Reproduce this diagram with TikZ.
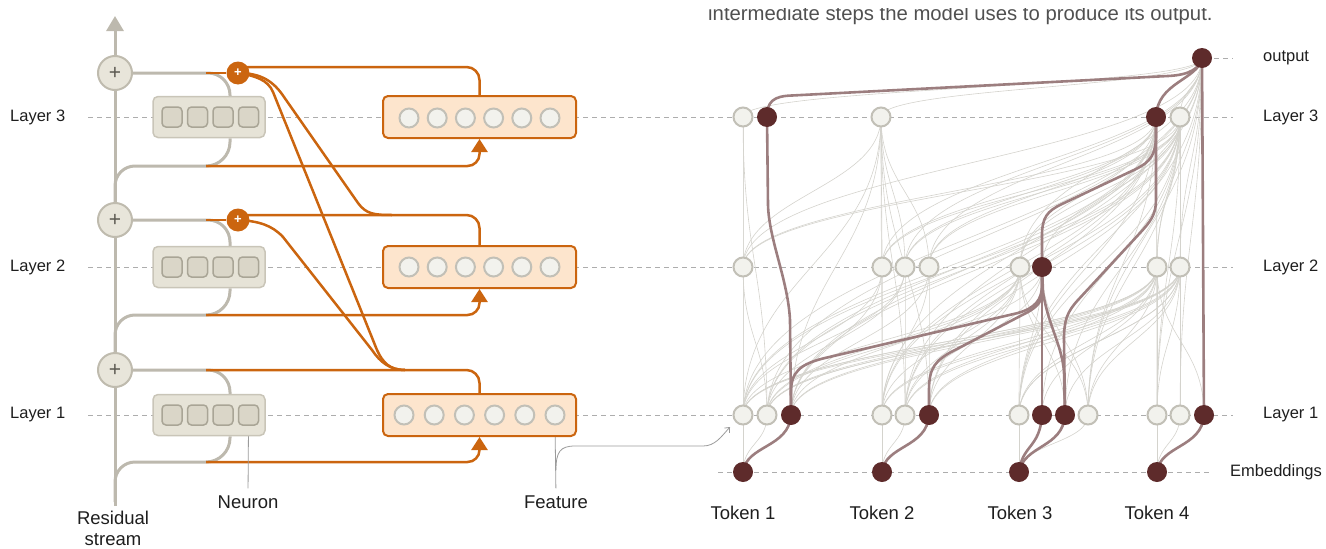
\documentclass[tikz,border=0pt]{standalone}
\usepackage{fontspec}
\setmainfont{Liberation Sans}
\usetikzlibrary{arrows.meta,calc}

\definecolor{resgray}{HTML}{BDB9AE}
\definecolor{plusfill}{HTML}{E8E5DA}
\definecolor{plusline}{HTML}{BFBBAE}
\definecolor{plusmark}{HTML}{5C5A52}
\definecolor{orng}{HTML}{CB650F}
\definecolor{featfill}{HTML}{FDE5CD}
\definecolor{nboxfill}{HTML}{E6E3D7}
\definecolor{nboxline}{HTML}{C9C5B8}
\definecolor{nsqfill}{HTML}{DAD6C8}
\definecolor{nsqline}{HTML}{A9A596}
\definecolor{cfill}{HTML}{F2F2ED}
\definecolor{cline}{HTML}{C2C0B7}
\definecolor{dnode}{HTML}{5E2B2B}
\definecolor{dedge}{HTML}{9C7E7F}
\definecolor{gedgecol}{HTML}{D4D3CD}
\definecolor{dashcol}{HTML}{ADADAD}
\definecolor{txt}{HTML}{1E1E1E}
\definecolor{introcol}{HTML}{505050}
\definecolor{notecol}{HTML}{9B9B9B}

\pgfdeclarelayer{wires}
\pgfsetlayers{wires,main}

\tikzset{
  resline/.style={draw=resgray, line width=3pt},
  orline/.style={draw=orng, line width=2.5pt},
  layerline/.style={draw=dashcol, line width=1pt, dash pattern=on 5pt off 4pt},
  plusnode/.style={circle, minimum size=34pt, inner sep=0pt, fill=plusfill, draw=plusline, line width=2pt, text=plusmark, font=\fontsize{21}{21}\selectfont},
  oplusnode/.style={circle, minimum size=23pt, inner sep=0pt, fill=orng, text=white, font=\fontsize{13}{13}\selectfont\bfseries},
  nbox/.style={rectangle, rounded corners=5pt, minimum width=112pt, minimum height=41pt, fill=nboxfill, draw=nboxline, line width=1.5pt},
  nsq/.style={rectangle, rounded corners=4pt, minimum size=20pt, inner sep=0pt, fill=nsqfill, draw=nsqline, line width=1.5pt},
  fbox/.style={rectangle, rounded corners=5pt, minimum width=193pt, minimum height=42pt, fill=featfill, draw=orng, line width=2pt},
  fcirc/.style={circle, minimum size=19pt, inner sep=0pt, fill=cfill, draw=cline, line width=2pt},
  gnode/.style={circle, minimum size=19pt, inner sep=0pt, fill=cfill, draw=cline, line width=2pt},
  dnodes/.style={circle, minimum size=20pt, inner sep=0pt, fill=dnode},
  gedges/.style={draw=gedgecol, line width=0.6pt},
  dedges/.style={draw=dedge, line width=2.6pt},
  lbl/.style={text=txt, font=\fontsize{18.5}{21}\selectfont, inner sep=0pt},
  laylbl/.style={text=txt, font=\fontsize{16.5}{18}\selectfont, inner sep=0pt},
  notearrow/.style={draw=notecol, line width=0.8pt, -{Straight Barb[length=4pt,width=7pt]}},
  inarrow/.style={-{Triangle[length=13pt,width=16pt]}},
}

% thin attribution edge: leaves the lower node upwards, enters the upper node from below
\newcommand{\gconn}[3]{\draw[gedges] (#1.center) .. controls +(0,-#3) and +(0,#3) .. (#2.center);}

\begin{document}
\begin{tikzpicture}[x=1pt,y=-1pt]
\useasboundingbox (0,0) rectangle (1326,549);

% caption line, its upper part cut away
\begin{scope}
  \clip (700,8) rectangle (1240,30);
  \node[anchor=base west, inner sep=0pt, text=introcol, font=\fontsize{20.3}{20.3}\selectfont] (intro) at (708,20) {intermediate steps the model uses to produce its output.};
\end{scope}

% ---------------- left panel: nodes ----------------
\node[plusnode] (rp3) at (115,73) {+};
\node[plusnode] (rp2) at (115,220) {+};
\node[plusnode] (rp1) at (115,370) {+};
\node[oplusnode] (op3) at (238,73) {+};
\node[oplusnode] (op2) at (238,220) {+};

\node[nbox] (nb3) at (209,117) {};
\node[nbox] (nb2) at (209,267) {};
\node[nbox] (nb1) at (209,415) {};
\foreach \i in {1,...,4} {
  \node[nsq] (nb3s\i) at ({172+25.5*(\i-1)},117) {};
  \node[nsq] (nb2s\i) at ({172+25.5*(\i-1)},267) {};
  \node[nsq] (nb1s\i) at ({172+25.5*(\i-1)},415) {};
}

\node[fbox] (fb3) at (479.5,117) {};
\node[fbox] (fb2) at (479.5,267) {};
\node[fbox] (fb1) at (479.5,415) {};
\foreach \i in {1,...,6} {
  \node[fcirc] (fb3c\i) at ({409+28.2*(\i-1)},118) {};
  \node[fcirc] (fb2c\i) at ({409+28.2*(\i-1)},267) {};
  \node[fcirc] (fb1c\i) at ({404+30.2*(\i-1)},415) {};
}

\coordinate (rsbot) at (115,506);
\coordinate (rstop) at (115,16);
\coordinate (j3) at (206,73);
\coordinate (j2) at (206,220);
\coordinate (j1) at (206,370);
\coordinate (br3) at (115,206);
\coordinate (br2) at (115,355);
\coordinate (br1) at (115,502);
\coordinate (k3) at (206,166);
\coordinate (k2) at (206,315);
\coordinate (k1) at (206,462);

% labels, left
\node[laylbl, anchor=west] (ll3) at (10,117) {Layer 3};
\node[laylbl, anchor=west] (ll2) at (10,267) {Layer 2};
\node[laylbl, anchor=west] (ll1) at (10,415) {Layer 1};
\node[lbl, align=center] (rslbl) at (113,528) {Residual\\stream};
\node[lbl] (neulbl) at (248,502) {Neuron};
\node[lbl] (featlbl) at (556,502) {Feature};

% ---------------- right panel: nodes ----------------
\node[dnodes] (out) at (1202,58) {};

\node[gnode]  (ta1) at (743,117) {};
\node[dnodes] (ta2) at (767,117) {};
\node[gnode]  (tb1) at (881,117) {};
\node[dnodes] (td1) at (1156,117) {};
\node[gnode]  (td2) at (1180,117) {};

\node[gnode]  (ma1) at (743,267) {};
\node[gnode]  (mb1) at (882,267) {};
\node[gnode]  (mb2) at (905,267) {};
\node[gnode]  (mb3) at (929,267) {};
\node[gnode]  (mc1) at (1020,267) {};
\node[dnodes] (mc2) at (1042,267) {};
\node[gnode]  (md1) at (1157,267) {};
\node[gnode]  (md2) at (1180,267) {};

\node[gnode]  (a1) at (743,415) {};
\node[gnode]  (a2) at (767,415) {};
\node[dnodes] (a3) at (791,415) {};
\node[gnode]  (b1) at (882,415) {};
\node[gnode]  (b2) at (905,415) {};
\node[dnodes] (b3) at (929,415) {};
\node[gnode]  (c1) at (1019,415) {};
\node[dnodes] (c2) at (1042,415) {};
\node[dnodes] (c3) at (1065,415) {};
\node[gnode]  (c4) at (1088,415) {};
\node[gnode]  (d1) at (1157,415) {};
\node[gnode]  (d2) at (1180,415) {};
\node[dnodes] (d3) at (1204,415) {};

\node[dnodes] (e1) at (743,472) {};
\node[dnodes] (e2) at (882,472) {};
\node[dnodes] (e3) at (1019,472) {};
\node[dnodes] (e4) at (1157,472) {};

% labels, right
\node[laylbl, anchor=west] (rlo) at (1263,58) {output};
\node[laylbl, anchor=west] (rl3) at (1263,117) {Layer 3};
\node[laylbl, anchor=west] (rl2) at (1263,267) {Layer 2};
\node[laylbl, anchor=west] (rl1) at (1263,415) {Layer 1};
\node[laylbl, anchor=west] (rle) at (1230,472) {Embeddings};
\node[lbl] (tok1) at (743,513) {Token 1};
\node[lbl] (tok2) at (882,513) {Token 2};
\node[lbl] (tok3) at (1020,513) {Token 3};
\node[lbl] (tok4) at (1157,513) {Token 4};

\coordinate (g3a) at (88,117);  \coordinate (g3b) at (1233,117);
\coordinate (g2a) at (88,267);  \coordinate (g2b) at (1233,267);
\coordinate (g1a) at (88,415);  \coordinate (g1b) at (1233,415);
\coordinate (gea) at (718,472); \coordinate (geb) at (1211,472);
\coordinate (goa) at (1214,58); \coordinate (gob) at (1233,58);
\coordinate (fbr) at (556,470);
\coordinate (fp) at (730,427);

\begin{pgfonlayer}{wires}
  % layer guides
  \foreach \u/\v in {g3a/g3b, g2a/g2b, g1a/g1b, gea/geb, goa/gob}
    \draw[layerline] (\u) -- (\v);

  % residual stream
  \draw[resline, -{Triangle[length=15pt,width=17pt]}] (rsbot) -- (rstop);

  % reads from the stream into each MLP
  \draw[resline, rounded corners=20pt] (br3) |- (k3);
  \draw[resline, rounded corners=20pt] (br2) |- (k2);
  \draw[resline, rounded corners=20pt] (br1) |- (k1);
  \draw[resline, rounded corners=24pt] (k3) -| ([xshift=21pt]nb3.south);
  \draw[resline, rounded corners=24pt] (k2) -| ([xshift=21pt]nb2.south);
  \draw[resline, rounded corners=24pt] (k1) -| ([xshift=21pt]nb1.south);
  % writes from each MLP back to the stream
  \draw[resline, rounded corners=22pt] (rp3.east) -| ([xshift=21pt]nb3.north);
  \draw[resline, rounded corners=22pt] (rp2.east) -| ([xshift=21pt]nb2.north);
  \draw[resline, rounded corners=22pt] (rp1.east) -| ([xshift=21pt]nb1.north);

  % transcoder inputs
  \draw[orline, inarrow, rounded corners=12pt] (k3) -| (fb3.south);
  \draw[orline, inarrow, rounded corners=12pt] (k2) -| (fb2.south);
  \draw[orline, inarrow, rounded corners=12pt] (k1) -| (fb1.south);

  % transcoder outputs
  \draw[orline] (j3) -- (op3);
  \draw[orline] (j2) -- (op2);
  \draw[orline, rounded corners=13pt] ($(op3)+(0,-6)$) -| (fb3.north);
  \draw[orline, rounded corners=13pt] ($(op2)+(0,-5)$) -| (fb2.north);
  \draw[orline, rounded corners=13pt] (j1) -| (fb1.north);

  % cross-layer writes
  \draw[orline] (op3.center) .. controls (262,73) and (274,82) .. (284,97) -- (358,203)
      .. controls (366,214) and (374,215) .. (392,215);
  \draw[orline] (op3.center) .. controls (256,76) and (268,80) .. (273,92) -- (377,350)
      .. controls (383,363) and (390,370) .. (405,370);
  \draw[orline] (op2.center) .. controls (258,221) and (272,225) .. (283,237) -- (372,350)
      .. controls (380,362) and (390,370) .. (405,370);

  % annotations
  \draw[notearrow, shorten <=7pt] (neulbl.north) -- (nb1s4.south);
  \draw[notearrow, shorten <=7pt] (featlbl.north) -- (fb1c6.south);
  \draw[notearrow] (fbr) .. controls (556,452) and (560,446) .. (575,446) -- (703,446)
      .. controls (715,446) and (721,437) .. (fp);

  % ---------------- attribution graph: faint edges ----------------
  \foreach \s/\t in {e1/a1,e1/a2,e2/b1,e2/b2,e3/c1,e3/c4,e4/d1,e4/d2}
    {\gconn{\s}{\t}{28}}
  \foreach \s/\t in {a1/ma1,a1/mb1,a1/mc1,a1/md1,a1/md2,a2/ma1,a2/mb2,a2/mc1,a2/md1,a2/md2,
      a3/mb1,a3/mb3,a3/md1,a3/md2,a3/mc1,b1/mb1,b1/mc1,b1/md1,b1/md2,b2/mb2,b2/md2,b2/mc1,
      b3/mb3,b3/md1,b3/md2,b3/mc1,c1/mc1,c1/md1,c1/md2,c2/md1,c3/md2,c4/mc1,c4/md1,c4/md2,
      c3/mc1,d1/md1,d2/md2,d1/md2,d3/md1,a1/mb2,b1/mb3,a2/mc2,b2/mc2,c1/mc2,c4/mc2,
      a1/md1,a2/md2,b2/md1,c1/md2}
    {\gconn{\s}{\t}{70}}
  \foreach \s/\t in {a1/ta1,a2/ta1,a1/tb1,a3/tb1,a1/td2,a2/td1,a3/td2,b1/tb1,b2/tb1,b1/td2,
      b2/td1,b2/td2,b3/td2,b3/tb1,c1/td1,c1/td2,c4/td2,c2/td2,d1/td1,d2/td2,d1/td2,a2/td2,b1/td1,
      a1/td1,a3/td1,b3/td1,c4/td1,c3/td2}
    {\gconn{\s}{\t}{140}}
  \foreach \s/\t in {ma1/ta1,ma1/tb1,ma1/td2,mb1/tb1,mb1/td2,mb2/tb1,mb2/td1,mb3/tb1,mb3/td2,
      mc1/td1,mc1/td2,mc2/td2,md1/td1,md2/td2,md1/td2,mb1/td1,ma1/td1,mb2/td2,mb3/td1}
    {\gconn{\s}{\t}{70}}
  \foreach \s/\t/\k in {ta1/out/30,tb1/out/30,td2/out/30,md1/out/100,md2/out/100,mb1/out/100,
      mc1/out/100,ma1/out/100,a1/out/170,b1/out/170,c4/out/170,d2/out/170,d1/out/170,b2/out/170,
      mb2/out/100,mb3/out/100,a2/out/170,c1/out/170}
    {\gconn{\s}{\t}{\k}}

  % ---------------- attribution graph: strong path ----------------
  \draw[dedges] (ta2.center) .. controls (767,102) and (773,96) .. (792,95.5) -- (1168,76)
      .. controls (1190,75) and (1200,68) .. (out.center);
  \draw[dedges] (out.center) .. controls (1198,80) and (1157,82) .. (td1.center);
  \draw[dedges] (out.center) -- (d3.center);
  \draw[dedges] (ta2.center) -- (768,205) .. controls (769,240) and (788,280) .. (790,320) -- (a3.center);
  \draw[dedges] (td1.center) -- (1156,135) .. controls (1156,155) and (1150,162) .. (1136,169)
      -- (1062,204) .. controls (1047,211) and (1042,218) .. (1042,235) -- (mc2.center);
  \draw[dedges] (td1.center) -- (1156,200) .. controls (1156,215) and (1150,222) .. (1140,233)
      -- (1078,300) .. controls (1067,312) and (1064,320) .. (1064,340) -- (c3.center);
  \draw[dedges] (mc2.center) -- (c2.center);
  \draw[dedges] (mc2.center) -- (1042,285) .. controls (1042,300) and (1035,308) .. (1018,313)
      -- (825,358) .. controls (800,364) and (791,372) .. (791,392) -- (a3.center);
  \draw[dedges] (mc2.center) -- (1042,290) .. controls (1042,302) and (1038,306) .. (1028,312)
      -- (955,350) .. controls (935,360) and (929,368) .. (929,390) -- (b3.center);
  \draw[dedges] (mc2.center) -- (1043,292) .. controls (1048,325) and (1062,345) .. (1064,372) -- (c3.center);
  \draw[dedges] (e1.center) .. controls (746,445) and (789,448) .. (a3.center);
  \draw[dedges] (e2.center) .. controls (885,445) and (927,448) .. (b3.center);
  \draw[dedges] (e3.center) .. controls (1022,445) and (1040,448) .. (c2.center);
  \draw[dedges] (e3.center) .. controls (1024,445) and (1063,448) .. (c3.center);
  \draw[dedges] (e4.center) .. controls (1160,445) and (1202,448) .. (d3.center);
\end{pgfonlayer}
\end{tikzpicture}
\end{document}
